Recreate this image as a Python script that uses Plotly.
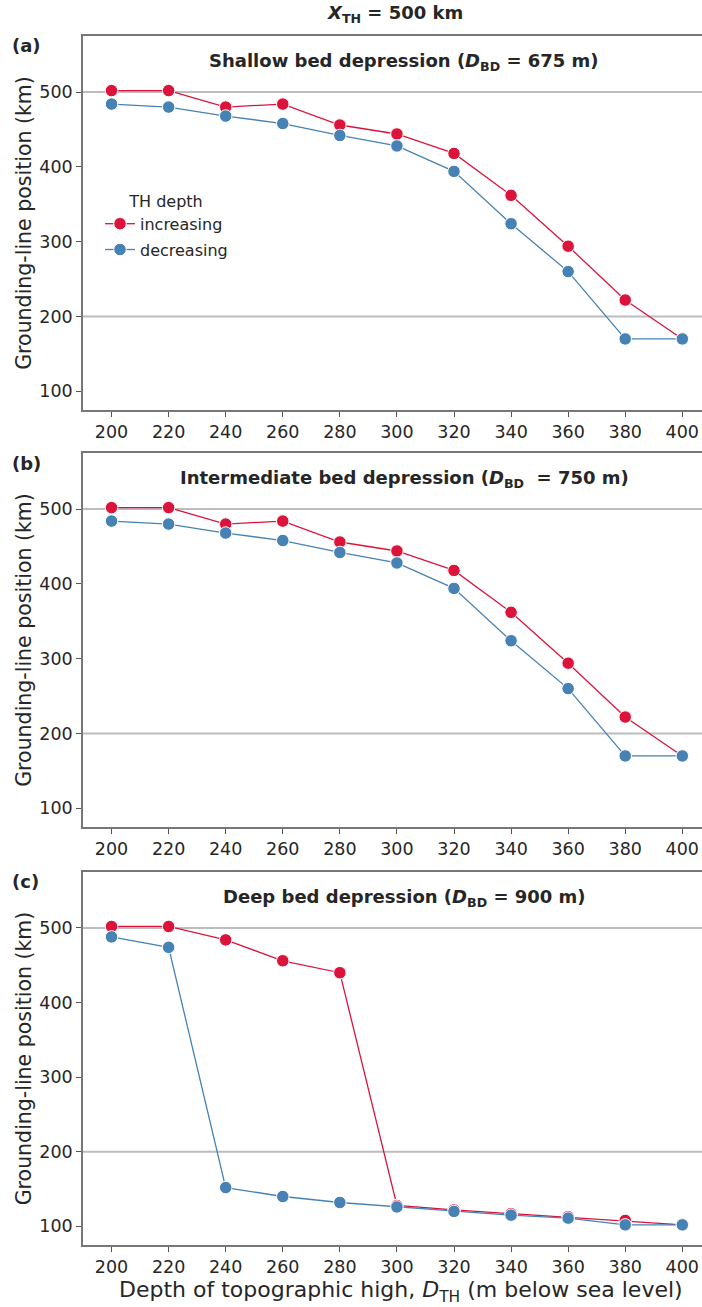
import plotly.graph_objects as go

depth = [200, 220, 240, 260, 280, 300, 320, 340, 360, 380, 400]

inc_a = [502, 502, 480, 484, 456, 444, 418, 362, 294, 222, 170]
dec_a = [484, 480, 468, 458, 442, 428, 394, 324, 260, 170, 170]
inc_b = [502, 502, 480, 484, 456, 444, 418, 362, 294, 222, 170]
dec_b = [484, 480, 468, 458, 442, 428, 394, 324, 260, 170, 170]
inc_c = [502, 502, 484, 456, 440, 128, 122, 117, 113, 108, 102]
dec_c = [488, 474, 152, 140, 132, 126, 120, 115, 111, 102, 102]

panels = [
    ("(a)", "Shallow bed depression (<i>D</i><sub>BD</sub> = 675 m)", inc_a, dec_a),
    ("(b)", "Intermediate bed depression (<i>D</i><sub>BD</sub>  = 750 m)", inc_b, dec_b),
    ("(c)", "Deep bed depression (<i>D</i><sub>BD</sub> = 900 m)", inc_c, dec_c),
]

RED = "#DC143C"
BLUE = "#4682B4"
TXT = "#262626"
FONT = "DejaVu Sans"

W, H = 702, 1307
mt, mb, ml, mr = 36, 62, 83, 0
plot_h = H - mt - mb

# panel pixel extents (top, bottom)
px_panels = [(36, 410), (453, 827), (872, 1245)]

def py(px):
    return (H - mb - px) / plot_h

def pxx(px):
    return (px - ml) / (W - ml - mr)

fig = go.Figure()
layout = dict(
    width=W, height=H,
    margin=dict(l=ml, r=mr, t=mt, b=mb),
    paper_bgcolor="white", plot_bgcolor="white",
    font=dict(family=FONT, color=TXT, size=17),
    showlegend=True,
)

annotations = []
shapes = []
for i, (lab, title, inc, dec) in enumerate(panels):
    n = i + 1
    xa = "x" if n == 1 else f"x{n}"
    ya = "y" if n == 1 else f"y{n}"
    fig.add_trace(go.Scatter(
        x=depth, y=inc, xaxis=xa, yaxis=ya, mode="lines+markers",
        name="increasing", legendgroup="inc", showlegend=(n == 1),
        line=dict(color=RED, width=1.3),
        marker=dict(size=12.5, color=RED, line=dict(color="white", width=1)),
    ))
    fig.add_trace(go.Scatter(
        x=depth, y=dec, xaxis=xa, yaxis=ya, mode="lines+markers",
        name="decreasing", legendgroup="dec", showlegend=(n == 1),
        line=dict(color=BLUE, width=1.3),
        marker=dict(size=12.5, color=BLUE, line=dict(color="white", width=1)),
    ))
    top, bot = px_panels[i]
    xkey = "xaxis" if n == 1 else f"xaxis{n}"
    ykey = "yaxis" if n == 1 else f"yaxis{n}"
    layout[xkey] = dict(
        domain=[0, 1], anchor=ya, range=[190, 406.9],
        tickmode="array", tickvals=depth, ticktext=[str(d) for d in depth],
        ticks="outside", ticklen=5, tickwidth=1.2, tickcolor="#555",
        showline=True, linecolor="#777", linewidth=1.5, mirror=True,
        showgrid=False, zeroline=False,
        tickfont=dict(size=17.5, color=TXT),
    )
    layout[ykey] = dict(
        domain=[py(bot), py(top)], anchor=xa, range=[75, 575],
        tickvals=[100, 200, 300, 400, 500],
        ticks="outside", ticklen=5, tickwidth=1.2, tickcolor="#555",
        showline=True, linecolor="#777", linewidth=1.5, mirror=False,
        showgrid=False, zeroline=False,
        tickfont=dict(size=17.5, color=TXT),
        title=dict(text="Grounding-line position (km)", font=dict(size=20.5, color=TXT), standoff=2),
    )
    for yv in (200, 500):
        shapes.append(dict(type="line", xref=f"{xa} domain", yref=ya, x0=0, x1=1,
                           y0=yv, y1=yv, line=dict(color="#bdbdbd", width=2), layer="below"))
    annotations.append(dict(
        text=f"<b>{title}</b>", xref="paper", yref="paper",
        x=pxx(404), y=py(top + 26), xanchor="center", yanchor="middle",
        showarrow=False, font=dict(size=18, color=TXT)))
    annotations.append(dict(
        text=f"<b>{lab}</b>", xref="paper", yref="paper",
        x=pxx(10), y=py(top + 10), xanchor="left", yanchor="middle",
        showarrow=False, font=dict(size=18, color=TXT)))

annotations.append(dict(
    text="<b><i>X</i><sub>TH</sub> = 500 km</b>", xref="paper", yref="paper",
    x=pxx(395), y=py(14), xanchor="center", yanchor="middle",
    showarrow=False, font=dict(size=18, color=TXT)))

annotations.append(dict(
    text="Depth of topographic high, <i>D</i><sub>TH</sub> (m below sea level)",
    xref="paper", yref="paper", x=pxx(401), y=py(1291),
    xanchor="center", yanchor="middle", showarrow=False,
    font=dict(size=22, color=TXT)))

layout["annotations"] = annotations
layout["shapes"] = shapes
layout["legend"] = dict(
    title=dict(text="TH depth", side="top center", font=dict(size=16, color=TXT)),
    x=pxx(100), y=py(186), xanchor="left", yanchor="top",
    bgcolor="rgba(255,255,255,0)", font=dict(size=16, color=TXT),
    itemwidth=30, tracegroupgap=2,
)
fig.update_layout(**layout)
fig.write_html("out.html")
